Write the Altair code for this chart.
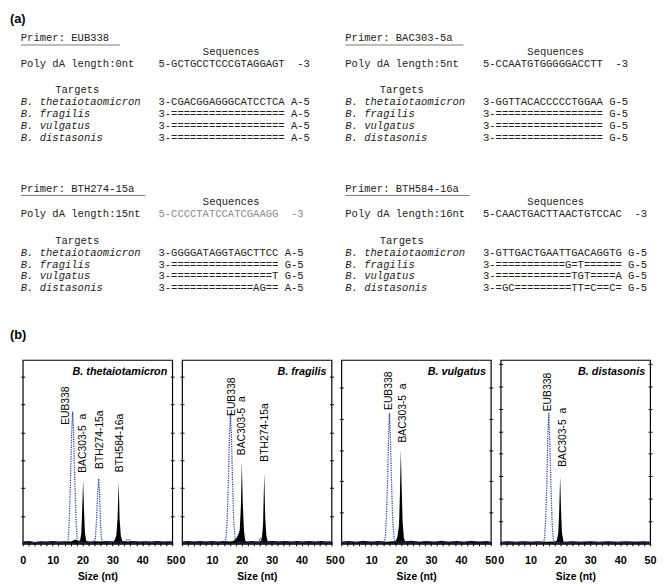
import altair as alt
import pandas as pd

# ---------------- (a) sequence alignment data ----------------
primer_names = ["EUB338", "BAC303-5a", "BTH274-15a", "BTH584-16a"]
polyda_lengths = ["0nt", "5nt", "15nt", "16nt"]
primer_seqs = [
    "5-GCTGCCTCCCGTAGGAGT  -3",
    "5-CCAATGTGGGGGACCTT  -3",
    "5-CCCCTATCCATCGAAGG  -3",
    "5-CAACTGACTTAACTGTCCAC  -3",
]
primer_seq_grey = [False, False, True, False]
species_names = ["B. thetaiotaomicron", "B. fragilis", "B. vulgatus", "B. distasonis"]
targets_eub338 = [
    "3-CGACGGAGGGCATCCTCA A-5",
    "3-================== A-5",
    "3-================== A-5",
    "3-================== A-5",
]
targets_bac303 = [
    "3-GGTTACACCCCCTGGAA G-5",
    "3-================= G-5",
    "3-================= G-5",
    "3-================= G-5",
]
targets_bth274 = [
    "3-GGGGATAGGTAGCTTCC A-5",
    "3-================= G-5",
    "3-================T G-5",
    "3-=============AG== A-5",
]
targets_bth584 = [
    "3-GTTGACTGAATTGACAGGTG G-5",
    "3-===========G=T====== G-5",
    "3-============TGT====A G-5",
    "3-=GC=========TT=C==C= G-5",
]
all_targets = [targets_eub338, targets_bac303, targets_bth274, targets_bth584]

# ---------------- (b) electropherogram data ----------------
panel_titles = ["B. thetaiotamicron", "B. fragilis", "B. vulgatus", "B. distasonis"]
panel_ymax = [6.6, 6.6, 5.88, 8.17]

blue_p1 = [[0, 0.05], [2, 0.07], [4, 0.04], [6, 0.06], [8, 0.05], [10, 0.07], [12, 0.05], [14, 0.06],
           [14.8, 0.05], [15.2, 0.15], [15.6, 0.9], [16.0, 2.4], [16.4, 4.1], [16.7, 4.75], [17.0, 4.0],
           [17.4, 2.3], [17.8, 0.9], [18.2, 0.2], [18.6, 0.06], [20, 0.05], [22, 0.06], [23.8, 0.05],
           [24.3, 0.2], [24.7, 0.9], [25.1, 1.9], [25.4, 2.33], [25.7, 1.8], [26.0, 0.8], [26.3, 0.2],
           [26.8, 0.05], [28, 0.06], [30, 0.05], [32, 0.07], [34, 0.06], [35, 0.16], [35.8, 0.14],
           [36.6, 0.06], [38, 0.05], [40, 0.07], [42, 0.05], [44, 0.06], [46, 0.05], [48, 0.07], [50, 0.05]]
black_p1 = [[0, 0.08], [2, 0.1], [4, 0.07], [6, 0.09], [8, 0.08], [10, 0.1], [12, 0.08], [14, 0.09],
            [16, 0.08], [16.6, 0.1], [17.2, 0.14], [17.8, 0.16], [18.5, 0.1], [19.2, 0.12], [19.6, 0.4],
            [19.9, 1.3], [20.2, 2.28], [20.5, 1.2], [20.8, 0.4], [21.2, 0.12], [21.8, 0.08], [24, 0.09],
            [26, 0.08], [28, 0.1], [30.3, 0.08], [30.8, 0.15], [31.3, 0.3], [31.7, 0.9], [32.1, 2.24],
            [32.4, 0.9], [32.8, 0.3], [33.3, 0.1], [35, 0.08], [37, 0.1], [39, 0.08], [41, 0.09],
            [43, 0.08], [45, 0.1], [47, 0.08], [49, 0.09], [50, 0.08]]
blue_p2 = [[0, 0.05], [3, 0.07], [6, 0.05], [9, 0.06], [12, 0.05], [14.2, 0.06], [14.7, 0.2], [15.1, 0.9],
           [15.5, 2.3], [15.9, 4.0], [16.2, 4.7], [16.5, 3.9], [16.9, 2.2], [17.3, 0.8], [17.8, 0.15],
           [18.3, 0.05], [21, 0.06], [24, 0.05], [25.5, 0.06], [26.0, 0.18], [26.4, 0.2], [26.8, 0.06],
           [30, 0.05], [34, 0.07], [38, 0.05], [42, 0.06], [46, 0.05], [50, 0.06]]
black_p2 = [[0, 0.08], [2, 0.1], [4, 0.08], [6, 0.1], [8, 0.08], [10, 0.1], [12, 0.08], [14, 0.1],
            [16, 0.08], [16.8, 0.09], [17.4, 0.12], [18.0, 0.18], [18.7, 0.3], [19.3, 0.5], [19.7, 1.4],
            [20.0, 2.95], [20.3, 1.5], [20.7, 0.5], [21.1, 0.12], [21.6, 0.08], [23.5, 0.1], [25.5, 0.08],
            [26.2, 0.09], [26.7, 0.2], [27.1, 0.7], [27.5, 2.54], [27.8, 1.0], [28.2, 0.3], [28.6, 0.09],
            [30.5, 0.1], [32.5, 0.08], [34.5, 0.1], [36.5, 0.08], [38.5, 0.1], [40.5, 0.08], [42.5, 0.1],
            [44.5, 0.08], [46.5, 0.1], [48.5, 0.08], [50, 0.09]]
blue_p3 = [[0, 0.05], [3, 0.06], [6, 0.05], [9, 0.07], [12, 0.05], [14.3, 0.05], [14.7, 0.2], [15.1, 0.9],
           [15.5, 2.1], [15.8, 3.5], [16.1, 4.18], [16.4, 3.4], [16.8, 1.9], [17.2, 0.7], [17.7, 0.12],
           [18.2, 0.05], [21, 0.06], [25, 0.05], [29, 0.07], [33, 0.05], [37, 0.06], [41, 0.05],
           [45, 0.07], [50, 0.05]]
black_p3 = [[0, 0.07], [2.5, 0.09], [5, 0.07], [7.5, 0.1], [10, 0.07], [12.5, 0.09], [15, 0.07],
            [17.8, 0.08], [18.3, 0.1], [18.8, 0.25], [19.3, 0.6], [19.6, 1.6], [19.9, 3.01], [20.2, 1.7],
            [20.5, 0.7], [20.9, 0.2], [21.3, 0.08], [23.5, 0.1], [26, 0.07], [28.5, 0.09], [31, 0.07],
            [33.5, 0.1], [36, 0.07], [38.5, 0.09], [41, 0.07], [43.5, 0.1], [46, 0.07], [48.5, 0.09],
            [50, 0.07]]
blue_p4 = [[0, 0.06], [3, 0.08], [6, 0.06], [9, 0.08], [12, 0.06], [14.3, 0.06], [14.7, 0.25], [15.1, 1.2],
           [15.5, 2.9], [15.8, 4.9], [16.1, 5.81], [16.4, 4.8], [16.8, 2.7], [17.2, 1.0], [17.6, 0.2],
           [18.1, 0.06], [21, 0.07], [25, 0.06], [29, 0.08], [33, 0.06], [37, 0.08], [41, 0.06],
           [45, 0.08], [50, 0.06]]
black_p4 = [[0, 0.09], [2.5, 0.12], [5, 0.09], [7.5, 0.12], [10, 0.09], [12.5, 0.12], [15, 0.09],
            [18.3, 0.1], [18.8, 0.15], [19.3, 0.5], [19.6, 1.5], [19.9, 2.99], [20.2, 1.5], [20.5, 0.5],
            [21.0, 0.12], [21.4, 0.09], [24, 0.12], [27, 0.09], [30, 0.12], [33, 0.09], [36, 0.12],
            [39, 0.09], [42, 0.12], [45, 0.09], [48, 0.12], [50, 0.09]]
blue_traces = [blue_p1, blue_p2, blue_p3, blue_p4]
black_traces = [black_p1, black_p2, black_p3, black_p4]

peak_labels = [
    [["EUB338", 14.5, 4.27], ["BAC303-5  a", 20.2, 2.55], ["BTH274-15a", 25.9, 2.69], ["BTH584-16a", 32.6, 2.57]],
    [["EUB338", 16.6, 4.59], ["BAC303-5  a", 20.2, 3.18], ["BTH274-15a", 27.6, 2.95]],
    [["EUB338", 16.0, 4.28], ["BAC303-5  a", 20.6, 3.24]],
    [["EUB338", 16.0, 5.89], ["BAC303-5  a", 20.8, 3.42]],
]

# ---------------- layout / style ----------------
MONO = "Liberation Mono"
SANS = "Liberation Sans"
TXT = "#222222"
CW = 6.42
TOP_W, TOP_H = 651, 343
PW, PH = 152, 187
col_x = [11, 341]
row_y = [26, 179]
line_off = {"primer": 0, "seq_head": 13.5, "poly": 26, "targets": 53, "sp0": 65}
SP_STEP = 12
NB = lambda s: s.replace(" ", "\u00a0")

mono_left, mono_center, mono_italic, mono_grey, rules = [], [], [], [], []
for b in range(4):
    x0 = col_x[b % 2]
    y0 = row_y[b // 2]
    ptxt = "Primer: " + primer_names[b]
    mono_left.append({"t": NB(ptxt), "x": x0, "y": y0})
    rules.append({"x": x0, "x2": x0 + len(ptxt) * CW + 11, "y": y0 + 6.7})
    mono_center.append({"t": "Sequences", "x": x0 + 214, "y": y0 + line_off["seq_head"]})
    mono_left.append({"t": NB("Poly dA length:" + polyda_lengths[b]), "x": x0, "y": y0 + line_off["poly"]})
    seq_row = {"t": NB(primer_seqs[b]), "x": x0 + 140, "y": y0 + line_off["poly"]}
    (mono_grey if primer_seq_grey[b] else mono_left).append(seq_row)
    mono_left.append({"t": "Targets", "x": x0 + 35, "y": y0 + line_off["targets"]})
    for k in range(4):
        yy = y0 + line_off["sp0"] + k * SP_STEP
        mono_italic.append({"t": NB(species_names[k]), "x": x0, "y": yy})
        mono_left.append({"t": NB(all_targets[b][k]), "x": x0 + 140, "y": yy})

TX = alt.Scale(domain=[0, TOP_W], nice=False, zero=False)
TY = alt.Scale(domain=[0, TOP_H], nice=False, zero=False, reverse=True)


def text_layer(rows, **kw):
    return alt.Chart(pd.DataFrame(rows)).mark_text(baseline="middle", **kw).encode(
        x=alt.X("x:Q", scale=TX, axis=None),
        y=alt.Y("y:Q", scale=TY, axis=None),
        text="t:N",
    )


rule_layer = alt.Chart(pd.DataFrame(rules)).mark_rule(color="#777777", strokeWidth=1).encode(
    x=alt.X("x:Q", scale=TX, axis=None), x2="x2:Q", y=alt.Y("y:Q", scale=TY, axis=None))

letters = [{"t": "(a)", "x": 0, "y": 0}, {"t": "(b)", "x": 0, "y": 322}]
letter_layer = alt.Chart(pd.DataFrame(letters)).mark_text(
    font=SANS, fontSize=13, fontWeight="bold", align="left", baseline="top", color="black").encode(
    x=alt.X("x:Q", scale=TX, axis=None), y=alt.Y("y:Q", scale=TY, axis=None), text="t:N")

top = alt.layer(
    rule_layer,
    text_layer(mono_left, font=MONO, fontSize=10.7, align="left", color=TXT),
    text_layer(mono_center, font=MONO, fontSize=10.7, align="center", color=TXT),
    text_layer(mono_italic, font=MONO, fontSize=10.7, align="left", fontStyle="italic", color=TXT),
    text_layer(mono_grey, font=MONO, fontSize=10.7, align="left", color="#8a8a8a"),
    letter_layer,
).properties(width=TOP_W, height=TOP_H, view=alt.ViewBackground(strokeOpacity=0))


def panel(i):
    ymax = panel_ymax[i]
    xs = alt.Scale(domain=[0, 50], nice=False, zero=False)
    ys = alt.Scale(domain=[0, ymax], nice=False, zero=False)
    xaxis = alt.Axis(values=list(range(0, 51, 2)),
                     labelExpr="datum.value % 10 === 0 ? datum.label : ''",
                     labelOverlap=False, labelFlush=False,
                     title="Size (nt)", tickSize=4, offset=-2, domain=False, grid=False,
                     tickColor="black", tickWidth=1,
                     labelFont=SANS, labelFontWeight="bold", labelFontSize=11, labelColor="black",
                     labelPadding=9, titleFont=SANS, titleFontWeight="bold", titleFontSize=10.5,
                     titleColor="black", titlePadding=6)
    yvals = list(range(1, int(ymax) + 1))
    yleft = alt.Axis(values=yvals, labels=False, title="", tickSize=4, offset=-2, domain=False,
                     grid=False, tickColor="black", orient="left")
    yright = alt.Axis(values=yvals, labels=False, title="", tickSize=4, offset=-2, domain=False,
                      grid=False, tickColor="black", orient="right")
    bdf = pd.DataFrame(black_traces[i], columns=["x", "y"])
    udf = pd.DataFrame(blue_traces[i], columns=["x", "y"])
    ldf = pd.DataFrame(peak_labels[i], columns=["t", "x", "y"])
    ldf["t"] = ldf["t"].map(NB)
    black = alt.Chart(bdf).mark_area(color="black", interpolate="linear").encode(
        x=alt.X("x:Q", scale=xs, axis=xaxis), y=alt.Y("y:Q", scale=ys, axis=yright))
    blue = alt.Chart(udf).mark_line(color="#2c3e9e", strokeDash=[1.2, 1.2], strokeWidth=1.3).encode(
        x=alt.X("x:Q", scale=xs, axis=xaxis), y=alt.Y("y:Q", scale=ys, axis=yleft))
    labels = alt.Chart(ldf).mark_text(angle=270, align="left", baseline="middle", font=SANS,
                                      fontSize=10.5, color="black").encode(
        x=alt.X("x:Q", scale=xs, axis=xaxis), y=alt.Y("y:Q", scale=ys, axis=None), text="t:N")
    title = alt.Chart(pd.DataFrame({"t": [panel_titles[i]]})).mark_text(
        align="right", baseline="middle", font=SANS, fontSize=11, fontWeight="bold",
        fontStyle="italic", color="black").encode(
        x=alt.value(PW - 5), y=alt.value(12), text="t:N")
    return alt.layer(black, blue, labels, title).resolve_axis(y="independent").properties(
        width=PW, height=PH,
        view=alt.ViewBackground(stroke="black", strokeWidth=1.2),
    )


spacer = alt.Chart(pd.DataFrame({"v": [0]})).mark_point(opacity=0).encode(
    x=alt.X("v:Q", axis=None), y=alt.Y("v:Q", axis=None)
).properties(width=3, height=PH, view=alt.ViewBackground(strokeOpacity=0))

bottom = alt.hconcat(spacer, *[panel(i) for i in range(4)], spacing=10, bounds="flush")

chart = alt.vconcat(top, bottom, spacing=10, bounds="flush").properties(
    padding=0, background="white")

chart.save("out.html", embed_options={"renderer": "svg", "actions": False})
